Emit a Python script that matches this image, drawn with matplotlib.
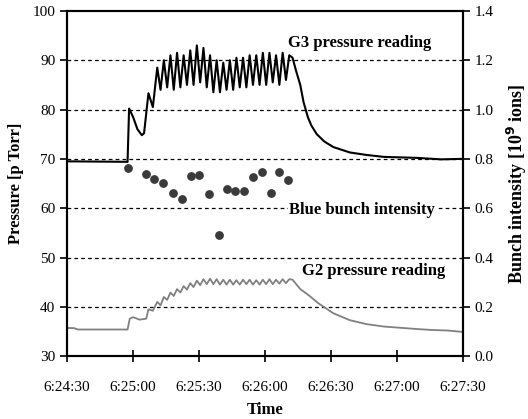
import matplotlib.pyplot as plt
from matplotlib.ticker import FuncFormatter

# time in seconds after 6:24:30
g3_time = [0, 27.5, 28.2, 30, 32, 34, 35, 37, 39,
           41, 42.5, 44, 45.5, 47, 48.5, 50, 51.5, 53, 54.5, 56, 57.5, 59, 60.5,
           62, 63.5, 65, 66.5, 68, 69.5, 71, 72.5, 74, 75.5, 77, 78.5, 80, 81.5,
           83, 84.5, 86, 87.5, 89, 90.5, 92, 93.5, 95, 96.5, 98, 99.5, 101,
           102.5, 104, 106, 107.5, 109.5, 111, 113.5, 117, 121, 128.5, 136, 144, 159, 170, 180]
g3_pressure = [69.5, 69.4, 80.2, 78.5, 76.0, 74.8, 75.2, 83.3, 80.5,
               88.5, 84.0, 90.0, 84.5, 91.0, 84.0, 91.5, 84.5, 91.0, 85.0,
               92.0, 85.0, 93.0, 85.5, 92.5, 84.5, 91.0, 83.5, 90.0, 83.5,
               89.5, 84.0, 90.0, 84.0, 90.5, 84.5, 90.5, 84.5, 91.0, 85.0,
               91.0, 85.0, 91.5, 85.0, 91.5, 85.5, 91.0, 85.0, 91.5, 86.0, 91.0,
               90.5, 88.0, 85.0, 81.5, 78.4, 76.8, 75.0, 73.5, 72.4, 71.3, 70.8, 70.4, 70.2, 69.9, 70.0]

g2_time = [0, 3, 5, 27.5, 28.5, 30, 33, 36, 37, 39,
           41, 42.5, 44, 45.5, 47, 48.5, 50, 51.5, 53, 54.5, 56, 57.5, 59, 60.5,
           62, 63.5, 65, 66.5, 68, 69.5, 71, 72.5, 74, 75.5, 77, 78.5, 80, 81.5,
           83, 84.5, 86, 87.5, 89, 90.5, 92, 93.5, 95, 96.5, 98, 99.5, 101,
           102.5, 106, 110, 114, 121, 128.5, 136, 144, 159, 166, 173, 180]
g2_pressure = [35.7, 35.7, 35.4, 35.4, 37.6, 37.9, 37.4, 37.6, 39.5, 39.2,
               41.0, 40.3, 42.0, 41.4, 42.9, 42.2, 43.6, 42.9, 44.2, 43.5,
               44.8, 44.0, 45.3, 44.4, 45.6, 44.6, 45.7, 44.6, 45.6, 44.5,
               45.5, 44.5, 45.5, 44.5, 45.4, 44.5, 45.5, 44.6, 45.5, 44.5,
               45.4, 44.5, 45.5, 44.6, 45.6, 44.6, 45.5, 44.7, 45.6, 44.8, 45.6,
               45.5, 43.6, 42.3, 40.8, 38.7, 37.3, 36.5, 36.0, 35.5, 35.3, 35.2, 34.9]

bunch_time = [27.7, 35.9, 39.5, 43.6, 48.2, 52.3, 56.4, 60, 64.5,
              69.1, 72.7, 76.4, 80.5, 84.5, 88.6, 92.7, 96.4, 100.5]
bunch_intensity = [0.762, 0.738, 0.718, 0.702, 0.662, 0.637, 0.730, 0.735, 0.658,
                   0.490, 0.678, 0.670, 0.670, 0.726, 0.746, 0.662, 0.746, 0.714]

time_ticks = [0, 30, 60, 90, 120, 150, 180]
time_labels = ["6:24:30", "6:25:00", "6:25:30", "6:26:00", "6:26:30", "6:27:00", "6:27:30"]

plt.rcParams['font.family'] = ['Liberation Serif', 'DejaVu Serif']

fig = plt.figure(figsize=(5.28, 4.19), dpi=100)
ax = fig.add_axes([0.127, 0.150, 0.750, 0.824])
ax2 = ax.twinx()

for y in [40, 50, 60, 70, 80, 90]:
    ax.axhline(y, color='black', lw=0.9, ls=(0, (3, 2.5)), zorder=1)

ax.plot(g3_time, g3_pressure, color='black', lw=1.5, zorder=3)
ax.plot(g2_time, g2_pressure, color='#808080', lw=1.3, zorder=3)
ax2.scatter(bunch_time, bunch_intensity, s=28, color='#3a3a3a', zorder=3)

ax.set_xlim(0, 180)
ax.set_ylim(30, 100)
ax2.set_ylim(0, 1.4)
ax.set_xticks(time_ticks)
ax.set_xticklabels(time_labels)
ax.set_yticks([30, 40, 50, 60, 70, 80, 90, 100])
ax2.set_yticks([0, 0.2, 0.4, 0.6, 0.8, 1.0, 1.2, 1.4])
ax2.yaxis.set_major_formatter(FuncFormatter(lambda v, p: "%.1f" % v))

ax.tick_params(axis='x', direction='inout', length=8, width=1.2, labelsize=11, pad=14)
ax.tick_params(axis='y', direction='out', length=5, width=1.2, labelsize=11)
ax2.tick_params(axis='y', direction='out', length=5, width=1.2, labelsize=11)
for a in (ax, ax2):
    for s in a.spines.values():
        s.set_linewidth(1.5)

ax.set_xlabel("Time", fontsize=12, fontweight='bold', labelpad=6)
ax.set_ylabel("Pressure [p Torr]", fontsize=12, fontweight='bold', labelpad=6)
ax2.set_ylabel("Bunch intensity [10$^\\mathbf{9}$ ions]", fontsize=13, fontweight='bold', labelpad=8)

ax.text(133, 93.5, "G3 pressure reading", fontsize=12, fontweight='bold', ha='center', va='center', zorder=4)
ax.text(134, 59.6, "Blue bunch intensity", fontsize=12, fontweight='bold', ha='center', va='center', zorder=4,
        bbox=dict(facecolor='white', edgecolor='none', pad=1))
ax.text(139.5, 47.2, "G2 pressure reading", fontsize=12, fontweight='bold', ha='center', va='center', zorder=4)

plt.savefig("out.png", dpi=100)
